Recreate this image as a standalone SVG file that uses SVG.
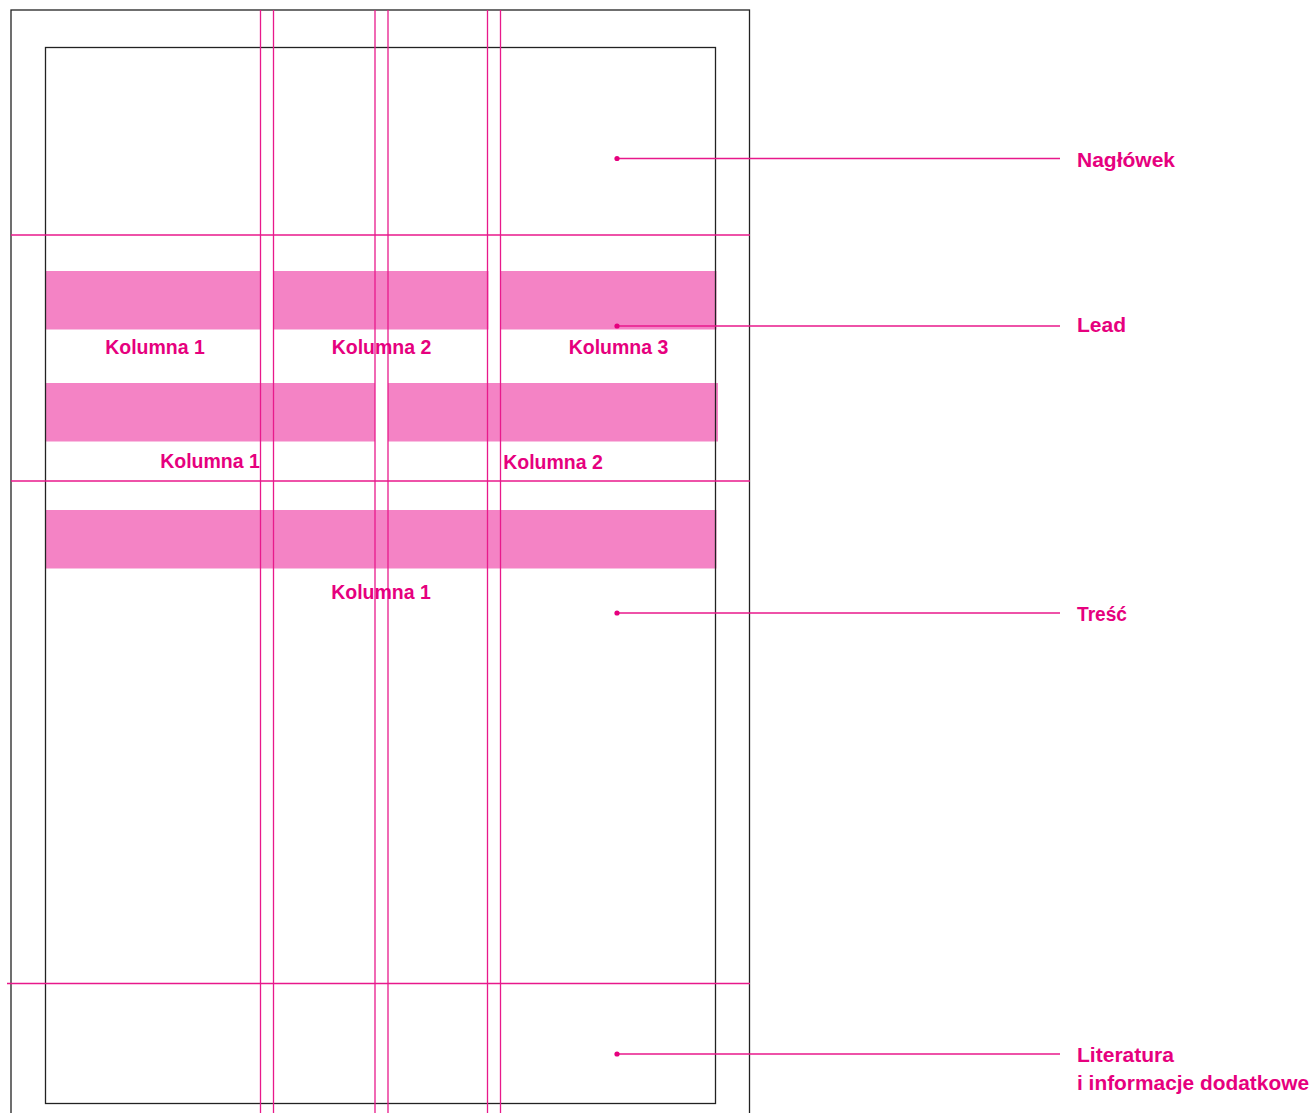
<svg xmlns="http://www.w3.org/2000/svg" width="1312" height="1113" viewBox="0 0 1312 1113">
<style>
.frame{fill:none;stroke:#222;stroke-width:1.3}
.band{fill:#F483C5}
.guide{stroke:#E8198B;stroke-width:1.3;fill:none}
.leader{stroke:#E8198B;stroke-width:1.3}
.dot{fill:#E6007E}
.col{font-family:"Liberation Sans",Arial,sans-serif;font-weight:bold;font-size:19.5px;fill:#E6007E;text-anchor:middle}
.lbl{font-family:"Liberation Sans",Arial,sans-serif;font-weight:bold;font-size:20px;fill:#E6007E}
</style>
<rect width="1312" height="1113" fill="#fff"/>
<g id="bands">
<rect class="band" x="45.5" y="271" width="215" height="58.5"/>
<rect class="band" x="274" y="271" width="214.5" height="58.5"/>
<rect class="band" x="501" y="271" width="215.5" height="58.5"/>
<rect class="band" x="45.5" y="383" width="329.5" height="58.5"/>
<rect class="band" x="388" y="383" width="330" height="58.5"/>
<rect class="band" x="45.5" y="510" width="671" height="58.5"/>
</g>
<g id="frames">
<rect class="frame" x="11" y="10" width="738.5" height="1120"/>
<rect class="frame" x="45.5" y="47.5" width="670" height="1056"/>
</g>
<g id="grid">
<line class="guide" x1="260.5" y1="10" x2="260.5" y2="1113"/>
<line class="guide" x1="273.5" y1="10" x2="273.5" y2="1113"/>
<line class="guide" x1="375" y1="10" x2="375" y2="1113"/>
<line class="guide" x1="388" y1="10" x2="388" y2="1113"/>
<line class="guide" x1="487.5" y1="10" x2="487.5" y2="1113"/>
<line class="guide" x1="500.5" y1="10" x2="500.5" y2="1113"/>
<line class="guide" x1="11" y1="235" x2="750" y2="235"/>
<line class="guide" x1="11" y1="481" x2="750" y2="481"/>
<line class="guide" x1="7" y1="983.5" x2="750" y2="983.5"/>
</g>
<g id="column-labels">
<text class="col" x="155" y="354">Kolumna 1</text>
<text class="col" x="381.5" y="354">Kolumna 2</text>
<text class="col" x="618.5" y="354">Kolumna 3</text>
<text class="col" x="210" y="468">Kolumna 1</text>
<text class="col" x="553" y="469">Kolumna 2</text>
<text class="col" x="381" y="599">Kolumna 1</text>
</g>
<g id="connectors">
<line class="leader" x1="617" y1="158.5" x2="1060" y2="158.5"/>
<circle class="dot" cx="617" cy="158.5" r="2.6"/>
<line class="leader" x1="617" y1="326" x2="1060" y2="326"/>
<circle class="dot" cx="617" cy="326" r="2.6"/>
<line class="leader" x1="617" y1="613" x2="1060" y2="613"/>
<circle class="dot" cx="617" cy="613" r="2.6"/>
<line class="leader" x1="617" y1="1054" x2="1060" y2="1054"/>
<circle class="dot" cx="617" cy="1054" r="2.6"/>
</g>
<g id="naglowek"><text class="lbl" x="1077" y="166.5" textLength="98" lengthAdjust="spacingAndGlyphs">Nagłówek</text></g>
<g id="lead"><text class="lbl" x="1077" y="332" textLength="49" lengthAdjust="spacingAndGlyphs">Lead</text></g>
<g id="tresc"><text class="lbl" x="1077" y="621" textLength="50" lengthAdjust="spacingAndGlyphs">Treść</text></g>
<g id="literatura"><text class="lbl" x="1077" y="1062" textLength="97" lengthAdjust="spacingAndGlyphs">Literatura</text><text class="lbl" x="1077" y="1089.5" textLength="232" lengthAdjust="spacingAndGlyphs">i informacje dodatkowe</text></g>
</svg>
